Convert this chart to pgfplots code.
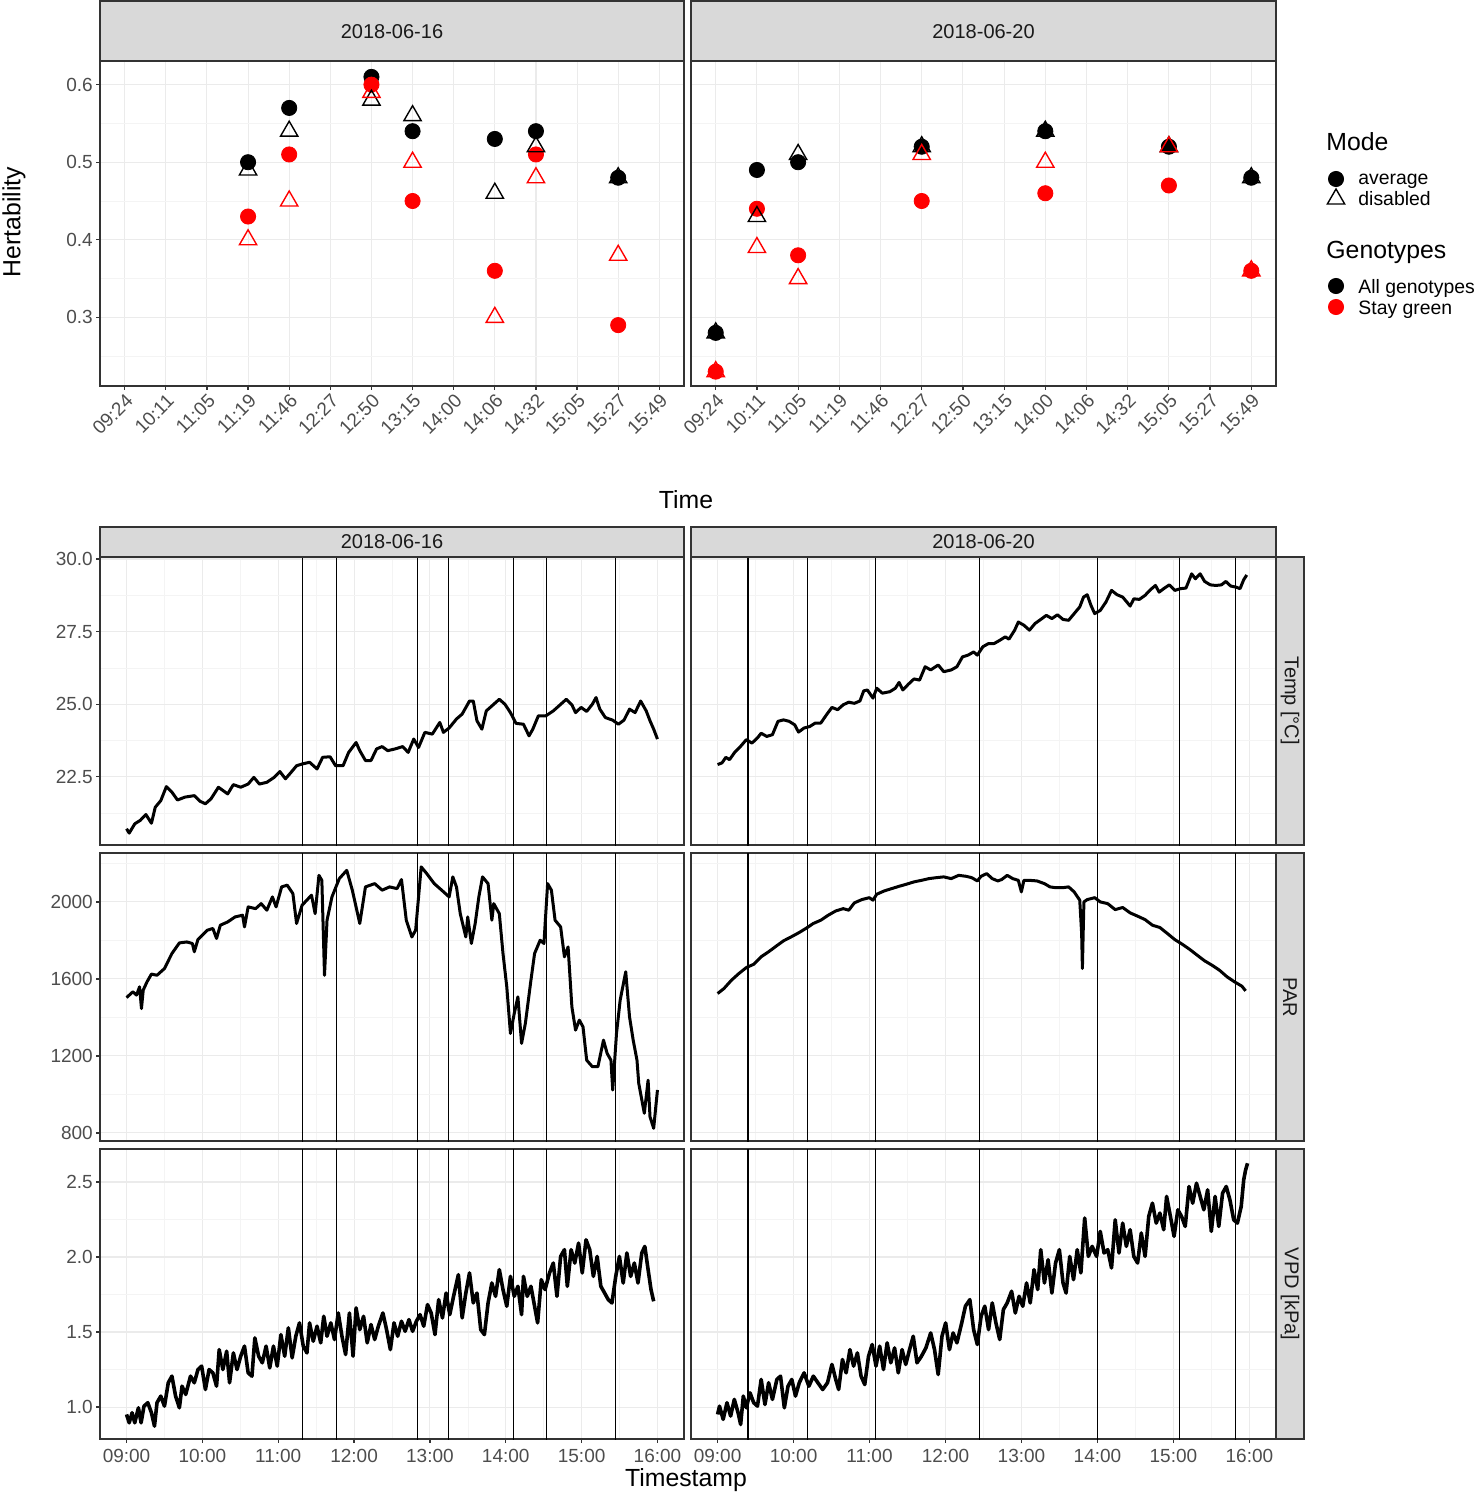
\documentclass[border=0pt]{standalone}
\usepackage{fontspec}
\setmainfont{Liberation Sans}
\usepackage{pgfplots}
\usepackage{pgfplotstable}
\pgfplotsset{compat=1.18}

\definecolor{gridmaj}{RGB}{235,235,235}
\definecolor{gridmin}{RGB}{244,244,244}
\definecolor{stripfill}{RGB}{217,217,217}
\definecolor{framecol}{RGB}{51,51,51}
\definecolor{ticktext}{RGB}{77,77,77}
\definecolor{striptext}{RGB}{26,26,26}

% Temperature, 2018-06-16 (minutes after 09:00, degC)
\pgfplotstableread{
m v
0 20.71
2.1 20.56
6.5 20.88
10.9 21.0
15.3 21.2
19.7 20.9
22.7 21.45
27.1 21.68
31.5 22.16
35.9 21.97
40.3 21.7
46.2 21.8
53.6 21.85
58.0 21.66
62.4 21.57
66.8 21.74
72.7 22.14
80.0 21.91
84.5 22.23
90.3 22.14
96.2 22.25
100.7 22.48
105.1 22.25
111.0 22.31
116.8 22.48
121.3 22.68
125.7 22.43
130.1 22.65
134.5 22.88
138.9 22.94
144.8 23.0
150.7 22.77
155.1 23.17
161.0 23.19
165.4 22.88
171.3 22.88
175.7 23.34
181.6 23.68
184.5 23.4
189.0 23.06
193.4 23.06
197.8 23.46
202.2 23.54
206.6 23.4
212.5 23.46
218.4 23.54
222.8 23.34
227.2 23.8
231.0 23.51
236.0 24.03
241.9 23.97
247.8 24.37
250.7 24.03
255.2 24.18
261.0 24.49
265.5 24.66
271.3 25.11
274.3 25.11
277.2 24.43
281.1 24.14
284.6 24.77
289.0 24.94
294.9 25.17
299.3 25.0
303.7 24.71
308.1 24.34
314.0 24.31
318.4 23.91
321.4 24.14
325.8 24.6
331.7 24.6
337.6 24.77
342.0 24.94
347.9 25.17
352.3 24.98
355.2 24.71
359.6 24.89
364.0 24.75
368.5 25.0
371.4 25.23
374.4 24.83
378.8 24.54
384.6 24.45
389.1 24.31
393.5 24.45
397.9 24.83
402.3 24.71
406.7 25.11
411.1 24.77
414.1 24.43
417.0 24.14
420.0 23.8
}\tempL

% Temperature, 2018-06-20
\pgfplotstableread{
m v
0 22.92
3.5 22.98
6.5 23.17
9.4 23.09
13.8 23.36
18.2 23.55
22.7 23.78
27.1 23.66
31.5 23.84
34.4 24.0
38.8 23.89
43.3 23.95
47.7 24.41
52.1 24.46
56.5 24.41
60.9 24.29
63.9 24.04
68.3 24.18
72.7 24.23
77.1 24.35
81.5 24.35
85.9 24.63
90.3 24.89
94.8 24.81
99.2 24.98
103.6 25.07
108.0 25.03
112.4 25.11
115.4 25.46
118.3 25.49
122.7 25.21
125.7 25.55
130.1 25.38
136.0 25.43
140.4 25.55
143.3 25.75
146.3 25.49
150.7 25.69
155.1 25.87
159.5 25.83
163.9 26.29
168.3 26.18
174.2 26.35
178.6 26.12
184.5 26.18
189.0 26.29
193.4 26.63
197.8 26.69
202.2 26.8
205.1 26.69
209.5 26.98
214.0 27.09
218.4 27.09
222.8 27.2
227.2 27.32
230.1 27.24
234.6 27.55
237.5 27.83
241.9 27.72
246.3 27.55
250.7 27.78
255.2 27.92
259.6 28.06
264.0 27.95
268.4 28.08
272.8 27.92
277.2 27.89
281.6 28.12
286.0 28.35
289.0 28.69
291.9 28.77
294.9 28.4
297.8 28.12
302.2 28.23
306.7 28.52
311.1 28.92
315.5 28.77
319.9 28.69
322.8 28.54
325.8 28.38
328.7 28.63
333.1 28.61
337.6 28.75
342.0 28.95
345.8 29.09
348.7 28.86
352.3 28.98
356.7 29.11
361.1 28.92
365.5 28.98
369.9 29.0
374.4 29.49
377.3 29.32
381.1 29.49
384.6 29.23
389.1 29.11
393.5 29.09
397.9 29.11
401.4 29.23
405.2 29.07
409.6 29.03
412.6 28.98
415.5 29.29
417.9 29.45
}\tempR

% PAR, 2018-06-16
\pgfplotstableread{
m v
0 1503
5.0 1533
7.9 1516
10.3 1559
11.8 1446
13.2 1542
16.2 1585
19.7 1625
24.1 1619
30.0 1654
35.9 1732
41.8 1787
47.7 1792
52.1 1784
53.6 1741
56.5 1805
63.9 1853
68.3 1862
71.2 1810
74.2 1879
80.0 1896
85.9 1922
91.8 1931
93.3 1870
96.2 1974
102.1 1965
106.5 1991
111.0 1957
115.4 2026
118.3 1974
122.7 2078
127.1 2087
131.6 2043
134.5 1888
138.9 1983
146.3 2035
149.2 1939
152.2 2138
154.5 2112
156.6 1619
158.6 1905
162.5 2026
168.3 2121
174.2 2164
178.6 2061
184.5 1888
189.0 2078
196.3 2095
202.2 2061
208.1 2078
214.0 2069
217.5 2116
221.3 1905
225.7 1818
228.7 1853
233.1 2182
237.5 2147
243.4 2095
249.3 2061
255.2 2026
258.1 2130
261.0 2078
264.0 1939
268.4 1818
269.9 1922
272.8 1784
275.8 1888
278.7 2026
281.6 2130
286.0 2095
289.0 1905
290.5 1991
294.9 1939
297.8 1732
300.8 1559
303.7 1317
306.7 1420
309.6 1507
312.5 1265
315.5 1369
319.9 1593
322.8 1732
327.2 1801
330.2 1784
333.1 2095
336.1 2061
339.0 1905
343.4 1870
346.4 1715
349.3 1766
352.3 1455
355.2 1334
358.2 1386
361.1 1351
364.0 1178
368.5 1144
372.9 1144
377.3 1282
380.2 1213
383.2 1178
384.6 1023
387.6 1317
390.5 1490
394.9 1637
397.9 1403
400.8 1282
403.8 1178
405.2 1057
409.6 902
412.6 1074
414.1 884
417.0 824
420.0 1023
}\parL

% PAR, 2018-06-20
\pgfplotstableread{
m v
0 1524
5.0 1550
10.9 1593
16.8 1628
22.7 1659
28.5 1676
34.4 1715
40.3 1741
46.2 1770
52.1 1798
58.0 1818
63.9 1839
69.7 1862
75.6 1888
81.5 1905
87.4 1931
93.3 1953
99.2 1965
103.6 1957
108.0 1995
113.9 2012
119.8 2022
122.7 2009
125.7 2040
131.6 2057
137.4 2069
143.3 2081
149.2 2092
155.1 2104
161.0 2112
166.9 2121
172.8 2126
178.6 2130
184.5 2121
190.4 2138
196.3 2133
200.7 2126
205.1 2109
208.1 2133
212.5 2147
216.9 2121
221.3 2109
224.3 2116
228.7 2138
233.1 2121
237.5 2112
239.9 2052
241.9 2112
246.3 2112
252.2 2109
258.1 2095
262.5 2078
266.9 2074
272.8 2074
277.2 2078
281.6 2052
286.0 2009
287.5 1836
288.1 1654
288.7 1836
289.3 2000
291.9 2012
297.8 2022
302.2 2000
308.1 1991
314.0 1960
319.9 1971
325.8 1943
331.7 1926
337.6 1908
343.4 1879
349.3 1867
355.2 1836
361.1 1804
367.0 1780
372.9 1753
378.8 1723
384.6 1694
390.5 1671
396.4 1645
402.3 1611
408.2 1585
414.1 1562
417.0 1538
}\parR

% VPD, 2018-06-16
\pgfplotstableread{
m v
0 0.951
2.1 0.895
4.4 0.962
6.5 0.895
9.4 0.995
11.5 0.895
13.8 1.006
16.8 1.029
19.7 0.962
22.1 0.873
24.1 1.029
27.1 1.073
30.0 1.006
33.0 1.162
35.9 1.206
38.8 1.073
41.8 0.995
43.9 1.139
46.8 1.084
50.6 1.206
53.6 1.162
56.5 1.250
59.4 1.273
62.4 1.117
65.3 1.250
68.3 1.228
71.2 1.139
73.3 1.383
76.2 1.250
79.2 1.372
81.5 1.162
84.5 1.361
87.4 1.250
90.3 1.339
93.3 1.406
96.2 1.228
99.2 1.206
101.5 1.461
104.5 1.339
107.4 1.295
110.4 1.406
113.3 1.261
116.2 1.406
119.2 1.273
122.1 1.483
125.1 1.339
128.0 1.528
131.0 1.328
133.9 1.472
136.8 1.561
139.8 1.406
142.7 1.361
144.8 1.561
147.7 1.439
150.7 1.539
153.6 1.428
156.0 1.605
158.6 1.472
161.6 1.561
164.5 1.450
167.5 1.627
170.4 1.472
173.3 1.350
176.3 1.627
179.2 1.339
181.6 1.661
184.5 1.516
187.5 1.605
190.4 1.428
193.4 1.550
196.3 1.450
199.2 1.539
202.8 1.627
205.7 1.516
208.7 1.383
211.6 1.561
214.5 1.472
217.5 1.572
220.4 1.505
223.4 1.583
226.3 1.505
229.3 1.572
232.2 1.616
235.1 1.539
238.1 1.683
241.0 1.627
244.0 1.483
246.9 1.716
249.9 1.594
252.8 1.760
255.7 1.616
258.7 1.738
262.5 1.882
265.5 1.594
268.4 1.760
271.3 1.894
274.3 1.694
277.2 1.760
280.2 1.516
283.1 1.483
286.0 1.694
289.0 1.827
291.9 1.738
294.9 1.916
297.8 1.783
300.8 1.672
303.7 1.871
306.7 1.738
309.6 1.805
312.5 1.616
314.0 1.871
317.0 1.738
319.9 1.805
322.8 1.672
325.2 1.561
328.1 1.849
331.1 1.783
334.6 1.894
337.6 1.960
340.5 1.738
343.4 2.004
346.4 2.049
348.7 1.805
351.7 2.049
354.6 1.960
357.6 2.093
360.5 1.894
363.5 2.115
366.4 2.049
369.3 1.871
372.3 2.004
375.2 1.805
378.2 1.760
381.1 1.716
384.0 1.694
387.0 1.871
389.9 2.004
392.9 1.827
395.8 2.027
398.8 1.871
401.7 1.960
404.6 1.827
407.6 2.027
410.0 2.071
412.6 1.916
414.9 1.783
417.0 1.705
}\vpdL

% VPD, 2018-06-20
\pgfplotstableread{
m v
0 0.951
1.5 1.006
4.4 0.918
7.4 1.029
10.3 0.940
13.2 1.051
16.2 0.962
18.2 0.884
20.3 1.073
22.7 0.995
25.6 1.095
28.5 1.029
31.5 1.006
34.4 1.184
37.4 1.017
40.3 1.162
43.3 1.051
46.8 1.184
49.7 1.206
52.7 0.995
55.6 1.139
58.6 1.184
61.5 1.073
64.5 1.162
68.3 1.228
72.1 1.139
75.6 1.206
79.2 1.162
83.0 1.117
86.8 1.162
90.3 1.284
93.3 1.184
95.6 1.117
98.6 1.317
101.5 1.228
104.5 1.383
107.4 1.273
110.4 1.361
113.3 1.206
116.2 1.150
119.2 1.339
122.1 1.417
125.1 1.273
128.0 1.406
131.0 1.250
133.9 1.428
136.8 1.295
139.8 1.394
142.7 1.228
145.7 1.383
148.6 1.284
151.6 1.383
154.5 1.472
157.5 1.295
161.0 1.339
164.5 1.394
168.3 1.494
171.3 1.383
174.2 1.217
177.2 1.472
180.1 1.561
183.1 1.383
186.0 1.494
189.0 1.428
192.8 1.561
195.7 1.672
199.2 1.716
202.2 1.516
205.1 1.417
208.1 1.605
211.0 1.672
214.0 1.516
216.9 1.694
219.8 1.561
222.8 1.450
225.7 1.650
228.7 1.694
232.2 1.772
235.1 1.627
238.1 1.738
241.0 1.672
244.0 1.827
246.9 1.694
249.9 1.916
252.8 1.783
255.2 2.049
258.1 1.827
261.0 1.982
264.0 1.760
266.9 1.960
269.9 2.049
272.8 1.827
275.2 1.760
278.1 2.004
281.1 1.849
284.0 2.049
286.9 1.894
289.9 2.260
292.8 2.004
295.8 2.071
299.3 2.004
302.2 2.171
305.2 2.027
308.1 2.049
311.1 1.927
314.0 2.248
317.0 2.027
319.9 2.226
322.8 2.071
325.8 2.182
328.7 2.004
331.7 1.960
334.6 2.160
337.6 2.004
340.5 2.271
343.4 2.359
346.4 2.226
349.3 2.293
352.3 2.182
354.6 2.404
357.6 2.271
360.5 2.138
363.5 2.315
366.4 2.271
369.3 2.204
372.3 2.470
375.2 2.359
378.2 2.492
381.1 2.404
384.0 2.315
387.0 2.448
389.9 2.171
392.9 2.404
395.8 2.204
398.8 2.426
401.7 2.470
404.6 2.381
407.6 2.248
410.5 2.226
413.5 2.337
415.5 2.515
417.0 2.581
418.5 2.625
}\vpdR

\tikzset{
  legtext/.style={anchor=west, inner sep=0pt, text height=7pt, text depth=2pt, font=\fontsize{9.7}{11}\selectfont},
  legtitle/.style={anchor=west, inner sep=0pt, text height=9pt, text depth=2.5pt, font=\fontsize{12.4}{13}\selectfont},
}

\pgfplotsset{
  panel/.style={
    scale only axis, anchor=north west, clip=true,
    axis line style={framecol, line width=0.6pt},
    tick style={framecol, line width=0.6pt},
    tick align=outside, major tick length=1.8pt, minor tick length=0pt,
    tick pos=left,
    grid=both,
    major grid style={gridmaj, line width=0.55pt},
    minor grid style={gridmin, line width=0.3pt},
    ticklabel style={font=\fontsize{9.5}{10}\selectfont, text=ticktext},
    yticklabel style={inner xsep=1.6pt},
    xticklabel style={inner ysep=3pt},
    /pgf/number format/assume math mode=true,
  },
  tsx/.style={xmin=-21, xmax=441, xtick={0,60,...,420}, minor xtick={30,90,...,390}},
  tsxlab/.style={xticklabels={09:00,10:00,11:00,12:00,13:00,14:00,15:00,16:00}},
  noxlab/.style={xticklabels={}, xtick style={draw=none}},
  noylab/.style={yticklabels={}, ytick style={draw=none}},
  tempy/.style={ymin=20.15, ymax=30.07, ytick={22.5,25,27.5,30}, yticklabels={22.5,25.0,27.5,30.0}, minor ytick={21.25,23.75,26.25,28.75}},
  pary/.style={ymin=758, ymax=2254, ytick={800,1200,1600,2000}, yticklabels={800,1200,1600,2000}, minor ytick={1000,1400,1800,2200}},
  vpdy/.style={ymin=0.787, ymax=2.72, ytick={1,1.5,2,2.5}, yticklabels={1.0,1.5,2.0,2.5}, minor ytick={1.25,1.75,2.25}},
  series/.style={black, line width=1.5pt, line join=round, no marks},
  vline/.style={black, line width=0.6pt, no marks, forget plot},
  topx/.style={xmin=-0.6, xmax=13.6, ymin=0.2115, ymax=0.6305,
    xtick={0,...,13},
    xticklabels={09:24,10:11,11:05,11:19,11:46,12:27,12:50,13:15,14:00,14:06,14:32,15:05,15:27,15:49},
    xticklabel style={rotate=45, anchor=north east, inner sep=1pt},
    ytick={0.3,0.4,0.5,0.6}, yticklabels={0.3,0.4,0.5,0.6},
    minor ytick={0.25,0.35,0.45,0.55}},
  bcirc/.style={only marks, mark=*, mark size=3.8pt, mark options={fill=black, draw=black}, forget plot},
  rcirc/.style={only marks, mark=*, mark size=3.8pt, mark options={fill=red, draw=red}, forget plot},
  btri/.style={only marks, mark=triangle, mark size=5pt, mark options={draw=black, line width=0.7pt}, forget plot},
  rtri/.style={only marks, mark=triangle, mark size=5pt, mark options={draw=red, line width=0.7pt}, forget plot},
}

% vertical lines at the measurement times; arguments: low and high y of the panel
\newcommand\vlinesL[2]{\pgfplotsinvokeforeach{139,166,230,255,306,332,387}{\addplot[vline] coordinates {(##1,#1) (##1,#2)};}}
\newcommand\vlinesR[2]{\pgfplotsinvokeforeach{24,71,125,207,300,365,409}{\addplot[vline] coordinates {(##1,#1) (##1,#2)};}}

\begin{document}
\begin{tikzpicture}
\useasboundingbox (0,0) rectangle (738pt,-746.5pt);

% ---------- Top: heritability ----------
\begin{axis}[panel, topx, at={(50pt,-30.5pt)}, width=292pt, height=162.5pt]
\addplot[bcirc] coordinates {(3,0.50) (4,0.57) (6,0.61) (7,0.54) (9,0.53) (10,0.54) (12,0.48)};
\addplot[rcirc] coordinates {(3,0.43) (4,0.51) (6,0.60) (7,0.45) (9,0.36) (10,0.51) (12,0.29)};
\addplot[btri] coordinates {(3,0.49) (4,0.54) (6,0.58) (7,0.56) (9,0.46) (10,0.52) (12,0.48)};
\addplot[rtri] coordinates {(3,0.40) (4,0.45) (6,0.59) (7,0.50) (9,0.30) (10,0.48) (12,0.38)};
\end{axis}

\begin{axis}[panel, topx, noylab, at={(345.5pt,-30.5pt)}, width=292.5pt, height=162.5pt]
\addplot[bcirc] coordinates {(0,0.28) (1,0.49) (2,0.50) (5,0.52) (8,0.54) (11,0.52) (13,0.48)};
\addplot[rcirc] coordinates {(0,0.23) (1,0.44) (2,0.38) (5,0.45) (8,0.46) (11,0.47) (13,0.36)};
\addplot[btri] coordinates {(0,0.28) (1,0.43) (2,0.51) (5,0.52) (8,0.54) (11,0.52) (13,0.48)};
\addplot[rtri] coordinates {(0,0.23) (1,0.39) (2,0.35) (5,0.51) (8,0.50) (11,0.52) (13,0.36)};
\end{axis}

% ---------- Legend (keys drawn in a hidden axis measured in pt) ----------
\begin{axis}[at={(655pt,-60pt)}, anchor=north west, scale only axis, width=80pt, height=100pt,
  xmin=0, xmax=80, ymin=-100, ymax=0, hide axis, clip=false]
\addplot[bcirc] coordinates {(13,-29.5) (13,-83)};
\addplot[rcirc] coordinates {(13,-93.5)};
\addplot[btri] coordinates {(13,-39.5)};
\node[legtitle] at (axis cs:8,-12) {Mode};
\node[legtext] at (axis cs:24,-30) {average};
\node[legtext] at (axis cs:24,-40.5) {disabled};
\node[legtitle] at (axis cs:8,-66) {Genotypes};
\node[legtext] at (axis cs:24,-84) {All genotypes};
\node[legtext] at (axis cs:24,-94.5) {Stay green};
\end{axis}

% ---------- Bottom: weather ----------
\begin{axis}[panel, tsx, noxlab, tempy, at={(50pt,-278.5pt)}, width=292pt, height=144pt]
\vlinesL{19}{31}
\addplot[series] table[x=m, y=v] {\tempL};
\end{axis}
\begin{axis}[panel, tsx, noxlab, tempy, noylab, at={(345.5pt,-278.5pt)}, width=292.5pt, height=144pt]
\vlinesR{19}{31}
\addplot[series] table[x=m, y=v] {\tempR};
\end{axis}

\begin{axis}[panel, tsx, noxlab, pary, at={(50pt,-426.5pt)}, width=292pt, height=144pt]
\vlinesL{700}{2300}
\addplot[series] table[x=m, y=v] {\parL};
\end{axis}
\begin{axis}[panel, tsx, noxlab, pary, noylab, at={(345.5pt,-426.5pt)}, width=292.5pt, height=144pt]
\vlinesR{700}{2300}
\addplot[series] table[x=m, y=v] {\parR};
\end{axis}

\begin{axis}[panel, tsx, tsxlab, vpdy, at={(50pt,-574.5pt)}, width=292pt, height=145pt]
\vlinesL{0.7}{2.8}
\addplot[series, line width=1.8pt] table[x=m, y=v] {\vpdL};
\end{axis}
\begin{axis}[panel, tsx, tsxlab, vpdy, noylab, at={(345.5pt,-574.5pt)}, width=292.5pt, height=145pt]
\vlinesR{0.7}{2.8}
\addplot[series, line width=1.8pt] table[x=m, y=v] {\vpdR};
\end{axis}

% ---------- Strips ----------
\begin{scope}[every node/.style={font=\fontsize{10}{11}\selectfont, text=striptext}]
\draw[fill=stripfill, draw=framecol, line width=0.6pt] (50pt,-0.5pt) rectangle (342pt,-30.5pt);
\node at (196pt,-16pt) {2018-06-16};
\draw[fill=stripfill, draw=framecol, line width=0.6pt] (345.5pt,-0.5pt) rectangle (638pt,-30.5pt);
\node at (491.75pt,-16pt) {2018-06-20};
\draw[fill=stripfill, draw=framecol, line width=0.6pt] (50pt,-263.5pt) rectangle (342pt,-278.5pt);
\node at (196pt,-271pt) {2018-06-16};
\draw[fill=stripfill, draw=framecol, line width=0.6pt] (345.5pt,-263.5pt) rectangle (638pt,-278.5pt);
\node at (491.75pt,-271pt) {2018-06-20};
\draw[fill=stripfill, draw=framecol, line width=0.6pt] (638pt,-278.5pt) rectangle (652pt,-422.5pt);
\node[rotate=-90] at (645pt,-350.5pt) {Temp [°C]};
\draw[fill=stripfill, draw=framecol, line width=0.6pt] (638pt,-426.5pt) rectangle (652pt,-570.5pt);
\node[rotate=-90] at (645pt,-498.5pt) {PAR};
\draw[fill=stripfill, draw=framecol, line width=0.6pt] (638pt,-574.5pt) rectangle (652pt,-719.5pt);
\node[rotate=-90] at (645pt,-647pt) {VPD [kPa]};
\end{scope}

% ---------- Axis titles ----------
\node[rotate=90, font=\fontsize{12.4}{13}\selectfont] at (7pt,-111pt) {Hertability};
\node[font=\fontsize{12.4}{13}\selectfont] at (343pt,-250pt) {Time};
\node[font=\fontsize{12.4}{13}\selectfont] at (343pt,-740pt) {Timestamp};
\end{tikzpicture}
\end{document}
